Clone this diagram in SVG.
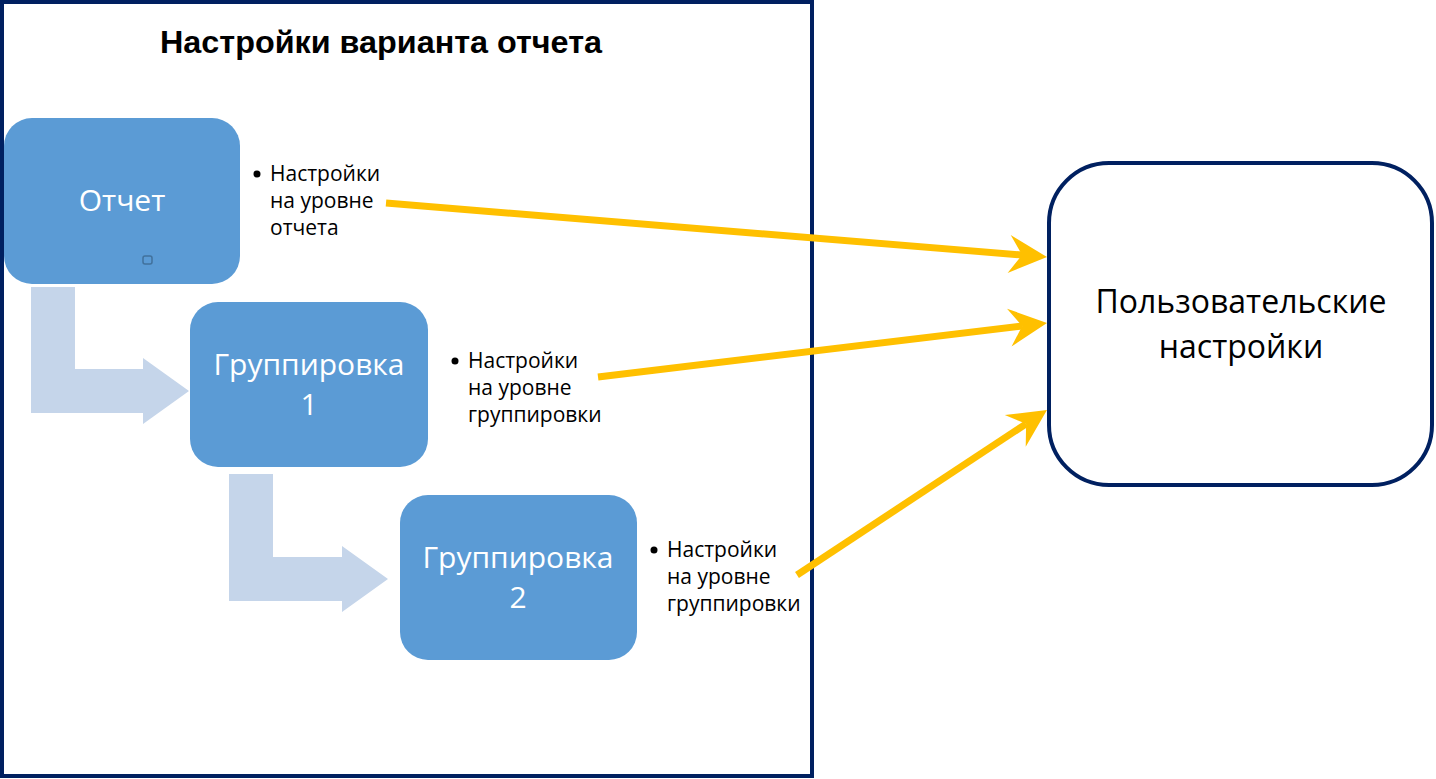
<svg xmlns="http://www.w3.org/2000/svg" width="1436" height="779" viewBox="0 0 1436 779">
<style>
.frame{fill:#fff;stroke:#002060;stroke-width:4}
.blue{fill:#5B9BD5}
.bent{fill:#C5D5EA}
.wt{font-family:"Open Sans","Noto Sans",sans-serif;font-size:30px;fill:#fff;text-anchor:middle}
.bt{font-family:"Open Sans","Noto Sans",sans-serif;font-size:21px;fill:#000}
.title{font-family:"Liberation Sans",Arial,sans-serif;font-weight:bold;font-size:32px;fill:#000;text-anchor:middle}
.big{font-family:"Open Sans","Noto Sans",sans-serif;font-size:32px;fill:#000;text-anchor:middle}
.yl{stroke:#FFC000;stroke-width:7;fill:none}
</style>
<defs>
<marker id="ah" markerUnits="userSpaceOnUse" markerWidth="60" markerHeight="60" refX="0" refY="0" orient="auto" overflow="visible">
<path d="M25,0 L-13,-19 L0,0 L-13,19 Z" fill="#FFC000"/>
</marker>
</defs>
<rect width="1436" height="779" fill="#fff"/>
<g id="frame">
<rect class="frame" x="2" y="2" width="810" height="774"/>
<text class="title" x="381" y="53" textLength="442" lengthAdjust="spacingAndGlyphs">Настройки варианта отчета</text>
</g>
<g id="bent-arrows">
<path class="bent" d="M31,287 H75 V369 H143 V358 L189,391 L143,424 V413 H31 Z"/>
<path class="bent" d="M229,474 H273 V557 H342 V546 L388,579 L342,612 V601 H229 Z"/>
</g>
<g id="node-report">
<rect class="blue" x="4" y="118" width="236" height="166" rx="28"/>
<text class="wt" x="122" y="211">Отчет</text>
<rect x="143" y="256" width="9" height="8" rx="2" fill="none" stroke="#41719C" stroke-width="1.5"/>
</g>
<g id="node-group1">
<rect class="blue" x="190" y="302" width="238" height="165" rx="28"/>
<text class="wt" x="309" y="375">Группировка</text>
<text class="wt" x="309" y="415">1</text>
</g>
<g id="node-group2">
<rect class="blue" x="400" y="495" width="237" height="165" rx="28"/>
<text class="wt" x="518" y="568">Группировка</text>
<text class="wt" x="518" y="608">2</text>
</g>
<g id="note-report">
<circle cx="257" cy="174" r="3.5" fill="#000"/>
<text class="bt" x="270" y="181">Настройки</text>
<text class="bt" x="270" y="208">на уровне</text>
<text class="bt" x="270" y="235">отчета</text>
</g>
<g id="note-group1">
<circle cx="455" cy="361" r="3.5" fill="#000"/>
<text class="bt" x="468" y="368">Настройки</text>
<text class="bt" x="468" y="395">на уровне</text>
<text class="bt" x="468" y="422">группировки</text>
</g>
<g id="note-group2">
<circle cx="654" cy="550" r="3.5" fill="#000"/>
<text class="bt" x="667" y="557">Настройки</text>
<text class="bt" x="667" y="584">на уровне</text>
<text class="bt" x="667" y="611">группировки</text>
</g>
<g id="node-user">
<rect x="1049" y="163" width="383" height="322" rx="60" fill="#fff" stroke="#002060" stroke-width="4"/>
<text class="big" x="1241" y="313">Пользовательские</text>
<text class="big" x="1241" y="358">настройки</text>
</g>
<g id="connectors">
<line class="yl" x1="386" y1="203" x2="1022.1" y2="255" marker-end="url(#ah)"/>
<line class="yl" x1="598" y1="377" x2="1022.2" y2="326" marker-end="url(#ah)"/>
<line class="yl" x1="797" y1="575" x2="1026.1" y2="423.8" marker-end="url(#ah)"/>
</g>
</svg>
